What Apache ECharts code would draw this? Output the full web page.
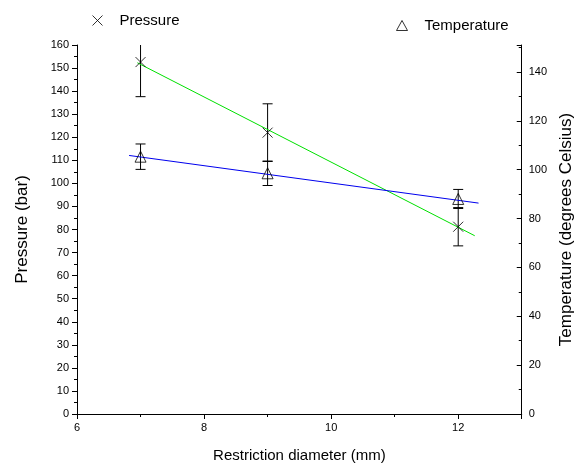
<!DOCTYPE html>
<html>
<head>
<meta charset="utf-8">
<title>Pressure and temperature vs restriction diameter</title>
<script src="https://cdn.jsdelivr.net/npm/echarts@6/dist/echarts.min.js"></script>
<style>
  html, body { margin: 0; padding: 0; background: #fff; }
  #main { width: 583px; height: 468px; }
</style>
</head>
<body>
<div id="main"></div>
<script>
// measured points (mean and error)
var diameters = [7, 9, 12]
var pressure = [152.6, 122, 81.2]
var pressureErr = [15, 12.5, 8.3]
var temperature = [105.3, 98.5, 88]
var temperatureErr = [5.2, 5, 3.9]
// linear fit lines, start and end
var pressureFit = [[6.95, 152.3], [12.26, 77.3]]
var temperatureFit = [[6.82, 105.8], [12.32, 86.3]]

var font = 'Liberation Sans, Arial, sans-serif'
var crossIcon = 'path://M0,0L10,10M10,0L0,10'
var myChart = echarts.init(document.getElementById('main'))

function errorBars(values, errs, yIndex) {
  return {
    type: 'custom',
    yAxisIndex: yIndex,
    clip: true,
    silent: true,
    z: 1,
    encode: { x: 0, y: [1, 2] },
    data: diameters.map(function (d, i) {
      return [d, values[i] - errs[i], values[i] + errs[i]]
    }),
    renderItem: function (params, api) {
      var lo = api.coord([api.value(0), api.value(1)])
      var hi = api.coord([api.value(0), api.value(2)])
      var w = 5
      var st = { stroke: '#000', lineWidth: 1 }
      return {
        type: 'group',
        children: [
          { type: 'line', shape: { x1: lo[0], y1: lo[1], x2: hi[0], y2: hi[1] }, style: st },
          { type: 'line', shape: { x1: lo[0] - w, y1: lo[1], x2: lo[0] + w, y2: lo[1] }, style: st },
          { type: 'line', shape: { x1: hi[0] - w, y1: hi[1], x2: hi[0] + w, y2: hi[1] }, style: st }
        ]
      }
    }
  }
}

var tickStyle = { color: '#000', fontSize: 11, fontFamily: font }
var lineStyle = { color: '#000', width: 1 }

var option = {
  backgroundColor: '#fff',
  animation: false,
  grid: { left: 77, right: 53, top: 45, bottom: 54 },
  legend: [{
    left: 85, top: 8,
    itemWidth: 10, itemHeight: 10,
    textStyle: { color: '#000', fontSize: 15, fontFamily: font, padding: [0, 0, 0, 12] },
    data: [{ name: 'Pressure', icon: crossIcon,
      itemStyle: { color: 'none', borderColor: '#000', borderWidth: 1 } }]
  }, {
    left: 391, top: 13,
    itemWidth: 11, itemHeight: 10,
    textStyle: { color: '#000', fontSize: 15, fontFamily: font, padding: [0, 0, 0, 12] },
    data: [{ name: 'Temperature', icon: 'triangle',
      itemStyle: { color: 'rgba(0,0,0,0)', borderColor: '#000', borderWidth: 1 } }]
  }],
  xAxis: {
    type: 'value', min: 6, max: 13, interval: 2,
    name: 'Restriction diameter (mm)', nameLocation: 'middle', nameGap: 34,
    nameTextStyle: { color: '#000', fontSize: 15, fontFamily: font },
    axisLine: { lineStyle: lineStyle },
    axisTick: { length: 5, lineStyle: lineStyle },
    minorTick: { show: true, splitNumber: 2, length: 3, lineStyle: lineStyle },
    axisLabel: Object.assign({ margin: 8, showMaxLabel: false }, tickStyle),
    splitLine: { show: false }
  },
  yAxis: [{
    type: 'value', min: 0, max: 160, interval: 10,
    name: 'Pressure (bar)', nameLocation: 'middle', nameGap: 46,
    nameTextStyle: { color: '#000', fontSize: 17, fontFamily: font },
    axisLine: { show: true, lineStyle: lineStyle },
    axisTick: { show: true, length: 5, lineStyle: lineStyle },
    minorTick: { show: true, splitNumber: 2, length: 3, lineStyle: lineStyle },
    axisLabel: Object.assign({ margin: 8 }, tickStyle),
    splitLine: { show: false }
  }, {
    type: 'value', min: 0, max: 151, interval: 20, position: 'right',
    name: 'Temperature (degrees Celsius)', nameLocation: 'middle', nameGap: 35,
    nameTextStyle: { color: '#000', fontSize: 17, fontFamily: font },
    axisLine: { show: true, lineStyle: lineStyle },
    axisTick: { show: true, inside: true, length: 5, lineStyle: lineStyle },
    minorTick: { show: true, splitNumber: 2, length: 3, lineStyle: lineStyle },
    axisLabel: Object.assign({ margin: 7, showMaxLabel: false }, tickStyle),
    splitLine: { show: false }
  }],
  series: [
    {
      name: 'Pressure fit', type: 'line', yAxisIndex: 0,
      data: pressureFit, symbol: 'none', silent: true, z: 2,
      lineStyle: { color: '#00e000', width: 1 }
    },
    {
      name: 'Temperature fit', type: 'line', yAxisIndex: 1,
      data: temperatureFit, symbol: 'none', silent: true, z: 2,
      lineStyle: { color: '#0000ee', width: 1 }
    },
    errorBars(pressure, pressureErr, 0),
    errorBars(temperature, temperatureErr, 1),
    {
      name: 'Pressure', type: 'scatter', yAxisIndex: 0, z: 3,
      data: diameters.map(function (d, i) { return [d, pressure[i]] }),
      symbol: crossIcon, symbolSize: 10,
      itemStyle: { color: 'none', borderColor: '#000', borderWidth: 1 }
    },
    {
      name: 'Temperature', type: 'scatter', yAxisIndex: 1, z: 3,
      data: diameters.map(function (d, i) { return [d, temperature[i]] }),
      symbol: 'triangle', symbolSize: [11, 11],
      itemStyle: { color: 'rgba(0,0,0,0)', borderColor: '#000', borderWidth: 1 }
    }
  ]
}
myChart.setOption(option)
</script>
</body>
</html>
